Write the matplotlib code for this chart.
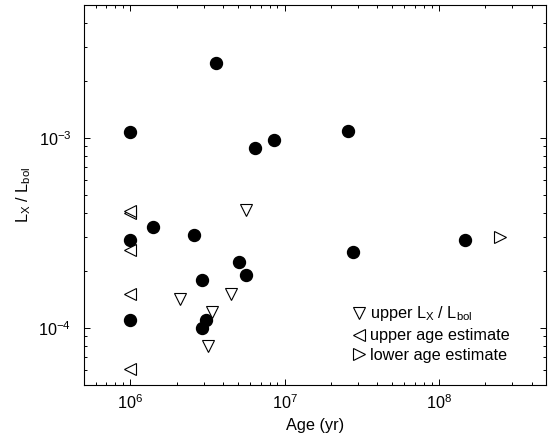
import numpy as np
import matplotlib
matplotlib.use("Agg")
import matplotlib.pyplot as plt

plt.rcParams['font.family'] = ['Liberation Sans', 'DejaVu Sans']
plt.rcParams['mathtext.fontset'] = 'custom'
plt.rcParams['mathtext.rm'] = 'Liberation Sans'
plt.rcParams['mathtext.it'] = 'Liberation Sans:italic'
plt.rcParams['mathtext.default'] = 'regular'

# detections (filled circles)
det_age = [1.0e6, 3.6e6, 6.4e6, 8.5e6, 2.6e7, 1.0e6, 1.4e6, 2.6e6, 2.9e6,
           5.1e6, 5.65e6, 1.0e6, 3.1e6, 2.9e6, 2.77e7, 1.47e8]
det_lx = [1.07e-3, 2.48e-3, 8.8e-4, 9.7e-4, 1.09e-3, 2.91e-4, 3.39e-4, 3.09e-4, 1.79e-4,
          2.21e-4, 1.90e-4, 1.10e-4, 1.10e-4, 1.0e-4, 2.49e-4, 2.88e-4]

# upper limits on Lx/Lbol
ul_age = [5.65e6, 2.11e6, 3.4e6, 4.52e6, 3.2e6]
ul_lx = [4.15e-4, 1.41e-4, 1.21e-4, 1.51e-4, 8.0e-5]

# upper age estimates
ua_age = [1.0e6, 1.0e6, 1.0e6, 1.0e6, 1.0e6]
ua_lx = [4.0e-4, 4.1e-4, 2.58e-4, 1.51e-4, 6.05e-5]

# lower age estimates
la_age = [2.5e8]
la_lx = [3.0e-4]

fs = 11.7

fig = plt.figure(figsize=(5.52, 4.34), dpi=100)
ax = fig.add_axes([0.152, 0.113, 0.838, 0.8755])

ax.plot(det_age, det_lx, 'o', color='black', ms=8.6, ls='None')
ax.plot(ul_age, ul_lx, 'v', mfc='white', mec='black', mew=0.8, ms=9, ls='None',
        label=r'upper L$_\mathrm{X}$ / L$_\mathrm{bol}$')
ax.plot(ua_age, ua_lx, '<', mfc='white', mec='black', mew=0.8, ms=9, ls='None',
        label='upper age estimate')
ax.plot(la_age, la_lx, '>', mfc='white', mec='black', mew=0.8, ms=9, ls='None',
        label='lower age estimate')

ax.set_xscale('log')
ax.set_yscale('log')
ax.set_xlim(5e5, 5e8)
ax.set_ylim(5e-5, 5e-3)

ax.tick_params(which='both', direction='in', top=True, right=True, labelsize=fs)
ax.tick_params(which='major', length=4.5, width=0.7)
ax.tick_params(which='minor', length=2.3, width=0.7)
ax.tick_params(axis='x', pad=6)
ax.tick_params(axis='y', pad=9)
for s in ax.spines.values():
    s.set_linewidth(0.8)

ax.set_xlabel('Age (yr)', fontsize=fs, labelpad=4)
ax.set_ylabel(r'L$_\mathrm{X}$ / L$_\mathrm{bol}$', fontsize=fs, labelpad=4)

ax.legend(loc='upper left', bbox_to_anchor=(0.5815, 0.212), frameon=False,
          handlelength=0.8, handletextpad=0.25, labelspacing=0.3,
          borderaxespad=0, borderpad=0, fontsize=fs)

fig.savefig('out.png', dpi=100)
